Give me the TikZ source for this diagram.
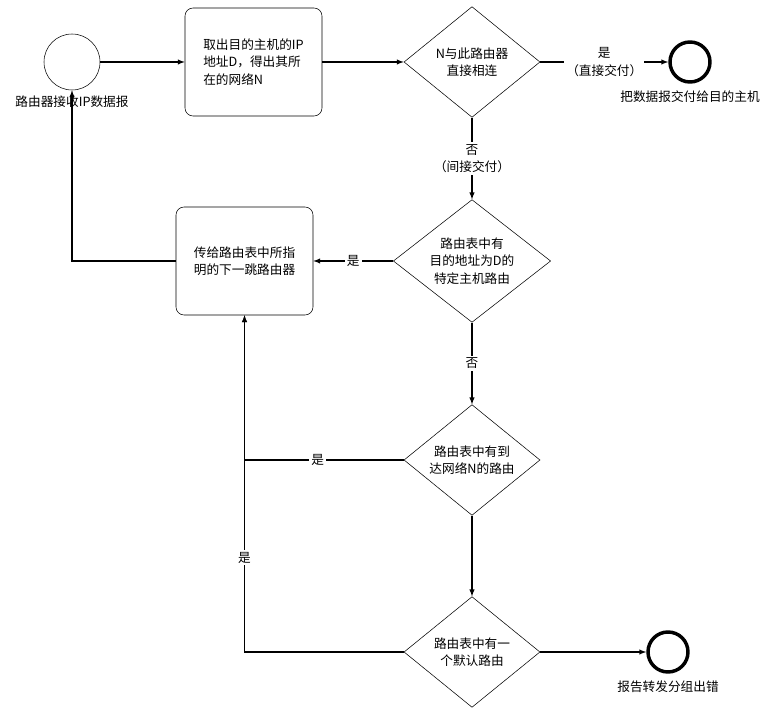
\documentclass[tikz,border=0pt]{standalone}
\usepackage{fontspec}
\setmainfont{Noto Sans CJK SC}
\usetikzlibrary{shapes,arrows,positioning,shapes.geometric}

\begin{document}
\begin{tikzpicture}[x=0.75pt, y=-0.75pt, >=latex, font=\fontsize{9.5}{13}\selectfont]
    \tikzstyle{event} = [circle, draw=black, fill=white, minimum size=42pt, inner sep=0]
    \tikzstyle{stop} = [circle, draw=black, line width=2.6pt, minimum size=30pt, inner sep=0]
    \tikzstyle{task} = [rectangle, draw=black, fill=white, rounded corners=6pt, minimum width=102.75pt, minimum height=81pt, align=left]
    \tikzstyle{gate} = [diamond, draw=black, fill=white, aspect=1.2, inner sep=0, align=center]
    \tikzstyle{arrow} = [draw, ->, thick, line width=0.8pt]
    \tikzstyle{tag} = [fill=white, inner sep=1.5pt, align=center]

    \useasboundingbox (0,0) rectangle (782,712);

    \node [event] (recv) at (72,62) {};
    \node [below=1pt of recv] {路由器接收IP数据报};
    \node [task] (getnet) at (253.5,62) {取出目的主机的IP\\地址D，得出其所\\在的网络N};
    \node [gate, minimum width=102pt, minimum height=83pt] (direct) at (472,62) {N与此路由器\\直接相连};
    \node [stop] (deliver) at (690,62) {};
    \node [below=2pt of deliver] {把数据报交付给目的主机};

    \node [gate, minimum width=118pt, minimum height=92pt] (host) at (472,261) {路由表中有\\目的地址为D的\\特定主机路由};
    \node [task] (nexthop) at (244.5,261) {传给路由表中所指\\明的下一跳路由器};
    \node [gate, minimum width=102pt, minimum height=83pt] (netroute) at (472,460) {路由表中有到\\达网络N的路由};
    \node [gate, minimum width=102pt, minimum height=83pt] (default) at (472,652) {路由表中有一\\个默认路由};
    \node [stop] (error) at (668,652) {};
    \node [below=2pt of error] {报告转发分组出错};

    \draw [arrow] (recv) -- (getnet);
    \draw [arrow] (getnet) -- (direct);
    \draw [arrow] (direct) -- node[tag] {是\\（直接交付）} (deliver);
    \draw [arrow] (direct) -- node[tag] {否\\（间接交付）} (host);
    \draw [arrow] (host) -- node[tag] {是} (nexthop);
    \draw [arrow] (host) -- node[tag] {否} (netroute);
    \draw [arrow] (netroute) -- (default);
    \draw [arrow] (default) -- (error);
    \draw [arrow] (nexthop.west) -| (recv.south);
    \draw [arrow] (netroute.west) -| node[tag, pos=0.27] {是} (nexthop.south);
    \draw [arrow] (default.west) -| node[tag, pos=0.64] {是} (nexthop.south);
\end{tikzpicture}
\end{document}
